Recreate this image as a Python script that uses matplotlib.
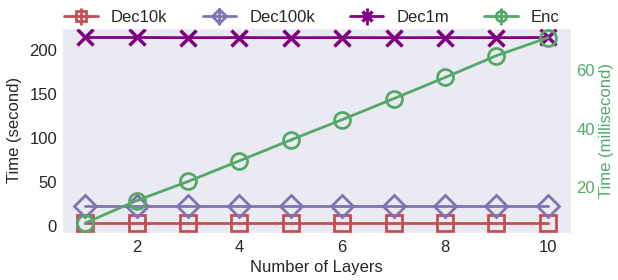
import matplotlib
matplotlib.use("Agg")
import matplotlib.pyplot as plt
import seaborn as sns

sns.set_style("darkgrid")
plt.rcParams['font.family'] = ['Liberation Sans', 'DejaVu Sans']

layers = [1, 2, 3, 4, 5, 6, 7, 8, 9, 10]
dec10k = [2.7, 2.7, 2.7, 2.7, 2.7, 2.7, 2.7, 2.7, 2.7, 2.7]
dec10k_err = [0.3, 0.3, 0.3, 0.3, 0.3, 0.3, 0.3, 0.3, 0.3, 0.3]
dec100k = [22.7, 22.7, 22.7, 22.7, 22.7, 22.7, 22.7, 22.7, 22.7, 22.7]
dec100k_err = [0.3, 0.3, 0.3, 0.3, 0.3, 0.3, 0.3, 0.3, 0.3, 0.3]
dec1m = [214.8, 214.8, 214.6, 214.7, 214.6, 214.7, 214.6, 214.7, 214.6, 214.8]
dec1m_err = [0.5, 0.5, 0.5, 0.5, 0.5, 0.5, 0.5, 0.5, 0.5, 0.5]
enc = [7.5, 15.2, 21.8, 28.9, 36.1, 43.1, 50.3, 57.6, 65.1, 71.3]
enc_err = [0.2, 0.2, 0.2, 0.2, 0.2, 0.2, 0.2, 0.2, 0.2, 0.2]

c_red = '#C44E52'
c_lav = '#8172B2'
c_pur = '#800080'
c_grn = '#55A868'

fig = plt.figure(figsize=(6.18, 2.8), dpi=100)
ax = fig.add_axes([0.1003, 0.168, 0.924 - 0.1003, 0.733])
ax.grid(False)
ax2 = ax.twinx()
ax2.grid(False)

ms = 11.5
mew = 2
lw = 2
kw = dict(ms=ms, mfc='none', mew=mew, lw=lw, elinewidth=mew, capsize=0)
e1 = ax.errorbar(layers, dec10k, yerr=dec10k_err, color=c_red, marker='s', label='Dec10k', **kw)
e2 = ax.errorbar(layers, dec100k, yerr=dec100k_err, color=c_lav, marker='D', label='Dec100k', **kw)
e3 = ax.errorbar(layers, dec1m, yerr=dec1m_err, color=c_pur, marker='x',
                 ms=ms, mfc='none', mew=mew + 0.5, lw=lw, elinewidth=mew, capsize=0, label='Dec1m')
e4 = ax2.errorbar(layers, enc, yerr=enc_err, color=c_grn, marker='o', label='Enc', **kw)

ax.set_xticks([2, 4, 6, 8, 10])
ax.set_yticks([0, 50, 100, 150, 200])
ax2.set_yticks([20, 40, 60])
ax.tick_params(axis='x', labelsize=12, pad=5, length=0)
ax.tick_params(axis='y', labelsize=12, pad=3.5, length=0)
ax2.tick_params(labelsize=12, pad=4, length=0, colors=c_grn)
ax.set_xlabel('Number of Layers', fontsize=12, labelpad=4)
ax.set_ylabel('Time (second)', fontsize=12, labelpad=5)
ax2.set_ylabel('Time (millisecond)', fontsize=12, color=c_grn, labelpad=3)
for s in ax2.spines.values():
    s.set_visible(False)

fig.legend([e1, e2, e3, e4], ['Dec10k', 'Dec100k', 'Dec1m', 'Enc'], ncol=4, frameon=False,
           loc='center', bbox_to_anchor=(0.505, 0.937), fontsize=12, markerscale=0.65,
           handlelength=2.0, columnspacing=2.1, handletextpad=0.8)

fig.savefig('out.png', dpi=100)
